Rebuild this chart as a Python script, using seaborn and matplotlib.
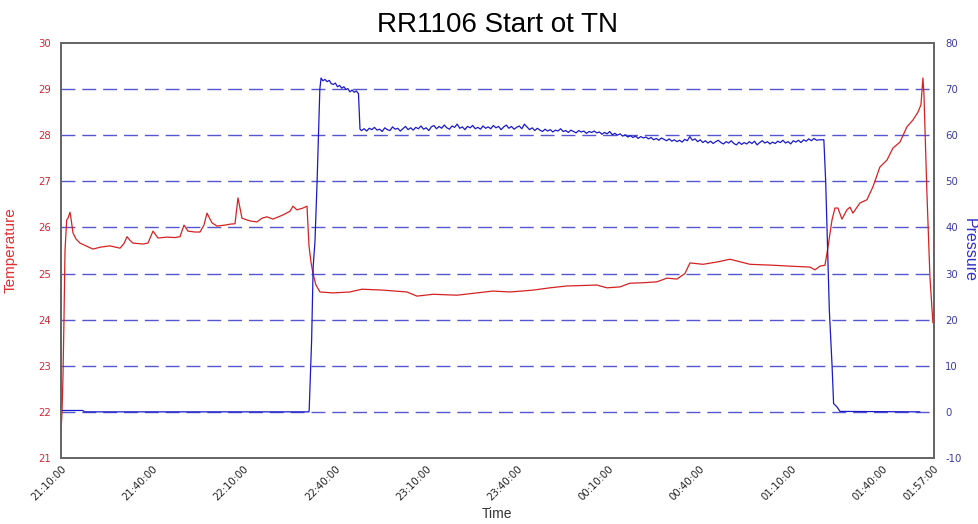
import numpy as np
import pandas as pd
import matplotlib
matplotlib.use("Agg")
import matplotlib.pyplot as plt
import seaborn as sns

# ---- data (time in minutes after 21:10:00) ----
temp_minutes = [
    0.00, 0.33, 0.65, 0.98, 1.32, 1.87, 2.30, 2.96, 3.28, 3.95, 4.93, 6.24, 8.21,
    10.52, 12.82, 16.10, 19.40, 20.71, 21.71, 22.68, 23.66, 26.96, 28.60, 30.25,
    31.90, 34.85, 37.48, 39.13, 40.44, 41.74, 44.05, 45.70, 47.00, 48.00, 49.63,
    51.28, 53.91, 55.56, 57.21, 58.19, 59.50, 62.13, 64.43, 66.08, 67.71, 69.69,
    72.97, 75.27, 76.27, 77.58, 79.55, 80.88, 81.53, 82.18, 82.83, 83.83, 85.14,
    89.42, 95.00, 98.95, 105.86, 113.75, 117.03, 122.29, 130.18, 135.44, 142.02,
    147.61, 155.17, 160.75, 166.34, 176.20, 179.49, 183.76, 187.05, 191.33,
    195.93, 199.22, 202.50, 205.13, 206.78, 211.06, 215.66, 219.93, 226.51,
    234.07, 239.65, 246.23, 247.88, 249.52, 251.17, 252.15, 253.47, 254.45,
    255.43, 256.75, 258.38, 259.38, 260.36, 262.66, 264.97, 266.93, 269.23,
    271.55, 273.51, 275.81, 278.11, 280.09, 281.74, 282.72, 283.37, 283.70,
    284.68, 285.68, 286.65,
]
temp_values = [
    21.54, 22.00, 22.75, 24.00, 25.50, 26.16, 26.20, 26.33, 26.20, 25.88, 25.75, 25.66, 25.60,
    25.53, 25.57, 25.60, 25.55, 25.65, 25.80, 25.72, 25.66, 25.64, 25.66, 25.92,
    25.77, 25.79, 25.78, 25.80, 26.05, 25.92, 25.90, 25.90, 26.05, 26.31, 26.10,
    26.03, 26.05, 26.07, 26.08, 26.64, 26.20, 26.14, 26.12, 26.20, 26.23, 26.18,
    26.27, 26.35, 26.46, 26.38, 26.42, 26.46, 25.60, 25.25, 25.00, 24.75, 24.60,
    24.58, 24.60, 24.66, 24.64, 24.60, 24.51, 24.55, 24.53, 24.57, 24.62,
    24.60, 24.64, 24.69, 24.73, 24.75, 24.69, 24.71, 24.79, 24.80,
    24.82, 24.90, 24.88, 25.00, 25.23, 25.20, 25.25, 25.31, 25.20,
    25.18, 25.16, 25.14, 25.08, 25.16, 25.18, 25.57, 26.16, 26.42,
    26.42, 26.18, 26.38, 26.44, 26.31, 26.53, 26.60, 26.88, 27.31,
    27.46, 27.72, 27.85, 28.18, 28.33, 28.50, 28.66, 29.24, 28.90,
    26.75, 24.92, 23.93,
]

# pressure: idle, pressurisation and first plateau
press_head_minutes = [
    0.0, 7.2, 7.7, 81.5, 81.6, 82.4, 82.9, 83.5, 84.2, 85.1, 85.5,
    86.1, 86.8, 87.5, 88.2, 88.8, 89.5, 90.2, 90.9, 91.6, 92.3, 93.0, 93.7,
    94.3, 95.0, 95.7, 96.4, 97.1, 97.8, 98.3,
]
press_head_values = [
    0.3, 0.3, 0.0, 0.0, 0.5, 15.6, 31.4, 37.0, 50.0, 70.0, 72.4,
    71.8, 72.1, 71.6, 71.9, 71.2, 71.0, 71.3, 70.5, 70.8, 70.2, 70.5, 69.9,
    70.1, 69.4, 69.8, 69.3, 69.6, 69.0, 61.3,
]
# pressure: main plateau, regular readings from 98.8 min
press_plateau_start = 98.8
press_plateau_step = 0.85
press_plateau_values = [
    61.0, 61.4, 60.9, 61.5, 61.2, 61.7, 61.1, 61.3, 60.8, 61.6,
    61.2, 61.0, 61.8, 61.3, 61.5, 60.9, 61.4, 61.9, 61.2, 61.6,
    61.1, 61.7, 61.4, 62.0, 61.3, 61.6, 61.0, 61.8, 62.1, 61.4,
    61.9, 61.5, 62.2, 61.6, 61.3, 62.0, 61.7, 62.4, 61.5, 61.8,
    61.2, 61.9, 61.6, 62.1, 61.4, 61.7, 61.3, 62.0, 61.5, 61.8,
    61.4, 62.1, 61.6, 61.9, 61.2, 61.8, 62.2, 61.5, 61.9, 61.3,
    61.7, 62.0, 61.4, 62.4, 61.8, 61.2, 61.6, 61.0, 61.5, 61.1,
    60.8, 61.3, 60.9, 61.2, 60.7, 61.1, 60.9, 61.4, 60.8, 61.0,
    60.6, 61.1, 60.8, 60.5, 61.0, 60.7, 60.9, 60.4, 60.8, 60.6,
    60.9, 60.5, 60.7, 60.2, 60.6, 60.3, 60.8, 60.1, 60.4, 60.0,
    60.3, 59.8, 60.1, 59.6, 59.9, 59.5, 59.8, 59.3, 59.7, 59.4,
    59.6, 59.2, 59.5, 59.0, 59.3, 58.9, 59.4, 59.1, 58.8, 59.2,
    58.7, 59.0, 58.6, 58.9, 58.5, 59.1, 58.8, 59.7, 58.9, 59.2,
    58.6, 59.0, 58.4, 58.8, 58.3, 58.7, 58.2, 58.6, 58.9, 58.4,
    58.1, 58.6, 58.3, 58.8, 58.2, 57.9, 58.5, 58.0, 58.4, 58.1,
    58.6, 58.2, 58.7, 57.9, 58.4, 58.8, 58.3, 58.6, 58.1, 58.5,
    58.2, 58.7, 58.4, 58.9, 58.3, 58.6, 58.1, 58.8, 58.5, 58.9,
    58.4, 59.0, 58.7, 59.2, 58.8, 59.3, 58.9, 59.0,
]
# pressure: release and idle tail
press_tail_minutes = [250.8, 251.4, 252.6, 253.5, 254.0, 255.2, 256.1, 282.4]
press_tail_values = [59.0, 50.0, 22.0, 10.0, 1.8, 1.0, 0.1, 0.0]

x_tick_minutes = [0, 30, 60, 90, 120, 150, 180, 210, 240, 270, 287]
x_tick_labels = ["21:10:00", "21:40:00", "22:10:00", "22:40:00", "23:10:00",
                 "23:40:00", "00:10:00", "00:40:00", "01:10:00", "01:40:00",
                 "01:57:00"]
temp_ticks = list(range(21, 31))
press_ticks = list(range(-10, 81, 10))

# ---- assemble tables ----
plateau_minutes = press_plateau_start + press_plateau_step * np.arange(len(press_plateau_values))
press_minutes = np.concatenate([press_head_minutes, plateau_minutes, press_tail_minutes])
press_values = np.concatenate([press_head_values, press_plateau_values, press_tail_values])

temp_df = pd.DataFrame({"minutes": temp_minutes, "Temperature": temp_values})
press_df = pd.DataFrame({"minutes": press_minutes, "Pressure": press_values})

# ---- figure ----
sns.set_style("white")
plt.rcParams["font.family"] = ["DejaVu Sans"]

RED = "#d42222"
BLUE = "#1a1ac8"
GRID = "#3838c8"
TEMP_TXT = "#cc2a3a"
PRESS_TXT = "#3a3aa8"
FRAME = "#666666"

fig, ax = plt.subplots(figsize=(9.79, 5.24), dpi=100)
fig.subplots_adjust(left=0.0623, right=0.954, bottom=0.126, top=0.918)
ax2 = ax.twinx()

# dashed grid shared by both scales
for t in temp_ticks[1:-1]:
    ax.axhline(t, color=GRID, linewidth=1.0, dashes=(10, 5), alpha=0.85, zorder=0)

sns.lineplot(data=temp_df, x="minutes", y="Temperature", ax=ax,
             color=RED, linewidth=0.9, sort=False)
sns.lineplot(data=press_df, x="minutes", y="Pressure", ax=ax2,
             color=BLUE, linewidth=0.9, sort=False)

ax.set_xlim(x_tick_minutes[0], x_tick_minutes[-1])
ax.set_ylim(temp_ticks[0], temp_ticks[-1])
ax2.set_ylim(press_ticks[0], press_ticks[-1])

ax.set_xticks(x_tick_minutes)
ax.set_xticklabels(x_tick_labels, rotation=45, ha="right", rotation_mode="anchor",
                   fontsize=7.3, color="#222222")
ax.set_yticks(temp_ticks)
ax.set_yticklabels([str(t) for t in temp_ticks], fontsize=7.3, color=TEMP_TXT)
ax2.set_yticks(press_ticks)
ax2.set_yticklabels([str(p) for p in press_ticks], fontsize=7.3, color=PRESS_TXT)

ax.tick_params(axis="x", direction="in", length=5, width=1, color=FRAME, pad=4)
ax.tick_params(axis="y", length=0, pad=7)
ax2.tick_params(axis="y", length=0, pad=8)

for a in (ax, ax2):
    for s in a.spines.values():
        s.set_color(FRAME)
        s.set_linewidth(1.3)
        s.set_visible(True)

ax.set_xlabel("Time", fontsize=10, color="#333333", family=["Liberation Sans"])
ax.xaxis.set_label_coords(0.5, -0.118)
ax.set_ylabel("Temperature", fontsize=11, color="#e03030", family=["Liberation Sans"])
ax.yaxis.set_label_coords(-0.050, 0.5)
ax2.set_ylabel("Pressure", fontsize=11.5, color="#3030c8", rotation=270,
               va="center", family=["Liberation Sans"])
ax2.yaxis.set_label_coords(1.040, 0.5)

ax.set_title("RR1106 Start ot TN", fontsize=20, color="black",
             family=["Liberation Sans"], pad=8)

fig.savefig("out.png", dpi=100, facecolor="white")
